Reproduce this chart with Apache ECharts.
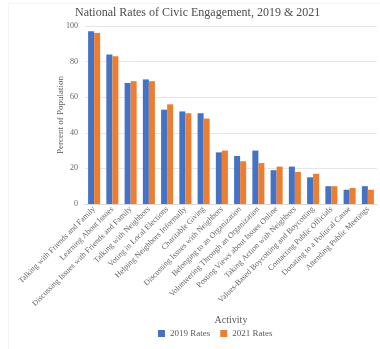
<!DOCTYPE html>
<html>
<head>
<meta charset="utf-8">
<script src="https://cdn.jsdelivr.net/npm/echarts@6/dist/echarts.min.js"></script>
<style>
  html, body { margin: 0; padding: 0; background: #fff; }
  #chart { width: 380px; height: 349px; }
</style>
</head>
<body>
<div id="chart"></div>
<script>
var activities = [
  'Talking with Friends and Family',
  'Learning About Issues',
  'Discussing Issues with Friends and Family',
  'Talking with Neighbors',
  'Voting in Local Elections',
  'Helping Neighbors Informally',
  'Charitable Giving',
  'Discussing Issues with Neighbors',
  'Belonging to an Organization',
  'Volunteering Through an Organization',
  'Posting Views about Issues Online',
  'Taking Action with Neighbors',
  'Values-Based Boycotting and Boycotting',
  'Contacting Public Officials',
  'Donating to a Political Cause',
  'Attending Public Meetings'
];
var rates2019 = [97, 84, 68, 70, 53, 52, 51, 29, 27, 30, 19, 21, 15, 10, 8, 10];
var rates2021 = [96, 83, 69, 69, 56, 51, 48, 30, 24, 23, 21, 18, 17, 10, 9, 8];

var serif = '"Liberation Serif", "DejaVu Serif", serif';

var myChart = echarts.init(document.getElementById('chart'), null, { renderer: 'canvas' });

var option = {
  animation: false,
  // faint frame of the original screenshot
  graphic: [{
    type: 'polyline',
    silent: true,
    shape: { points: [[8.5, 349], [8.5, 3.5], [380, 3.5]] },
    style: { stroke: '#f3f3f3', fill: null, lineWidth: 1 }
  }],
  title: {
    text: 'National Rates of Civic Engagement, 2019 & 2021',
    left: 70,
    top: 2,
    textStyle: { fontFamily: serif, fontSize: 12, fontWeight: 'normal', color: '#4d4d4d' }
  },
  legend: {
    bottom: 6,
    left: 153,
    itemWidth: 7,
    itemHeight: 7,
    itemGap: 10,
    icon: 'rect',
    textStyle: { fontFamily: serif, fontSize: 9, color: '#595959' },
    data: ['2019 Rates', '2021 Rates']
  },
  grid: { left: 85, right: 3, top: 26, bottom: 145 },
  xAxis: {
    type: 'category',
    data: activities,
    name: 'Activity',
    nameLocation: 'middle',
    nameGap: 111,
    nameMoveOverlap: false,
    nameTextStyle: { fontFamily: serif, fontSize: 10, color: '#595959' },
    axisTick: { show: false },
    axisLine: { lineStyle: { color: '#d9d9d9' } },
    axisLabel: { rotate: 45, interval: 0, fontFamily: serif, fontSize: 8, color: '#666666', margin: 4 }
  },
  yAxis: {
    type: 'value',
    min: 0,
    max: 100,
    interval: 20,
    name: 'Percent of Population',
    nameLocation: 'middle',
    nameGap: 20,
    nameMoveOverlap: false,
    nameTextStyle: { fontFamily: serif, fontSize: 9, color: '#595959' },
    axisLabel: { fontFamily: serif, fontSize: 8, color: '#666666', margin: 7 },
    splitLine: { lineStyle: { color: '#e6e6e6' } }
  },
  series: [
    {
      name: '2019 Rates',
      type: 'bar',
      data: rates2019,
      itemStyle: { color: '#4472C4' },
      barGap: '0%',
      barCategoryGap: '34%'
    },
    {
      name: '2021 Rates',
      type: 'bar',
      data: rates2021,
      itemStyle: { color: '#ED7D31' }
    }
  ]
};

myChart.setOption(option);
window.addEventListener('resize', myChart.resize);
</script>
</body>
</html>
